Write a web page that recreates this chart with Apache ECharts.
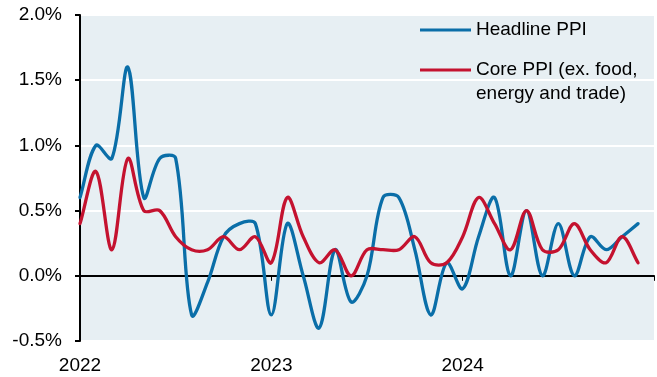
<!DOCTYPE html>
<html><head><meta charset="utf-8">
<script src="https://cdn.jsdelivr.net/npm/echarts@6/dist/echarts.min.js"></script>
<style>html,body{margin:0;padding:0;background:#fff}#c{width:657px;height:377px}</style>
</head><body><div id="c"></div>
<script>
const months = ['2022-01','2022-02','2022-03','2022-04','2022-05','2022-06','2022-07','2022-08','2022-09','2022-10','2022-11','2022-12',
  '2023-01','2023-02','2023-03','2023-04','2023-05','2023-06','2023-07','2023-08','2023-09','2023-10','2023-11','2023-12',
  '2024-01','2024-02','2024-03','2024-04','2024-05','2024-06','2024-07','2024-08','2024-09','2024-10','2024-11','2024-12'];
const headlinePPI = [0.6, 1.0, 0.9, 1.6, 0.6, 0.9, 0.9, -0.3, -0.05, 0.3, 0.4, 0.4,
  -0.3, 0.4, 0.0, -0.4, 0.2, -0.2, 0.0, 0.6, 0.6, 0.2, -0.3, 0.1,
  -0.1, 0.3, 0.6, 0.0, 0.5, 0.0, 0.4, 0.0, 0.3, 0.2, 0.3, 0.4];
const corePPI = [0.4, 0.8, 0.2, 0.9, 0.5, 0.5, 0.3, 0.2, 0.2, 0.3, 0.2, 0.3,
  0.1, 0.6, 0.3, 0.1, 0.2, 0.0, 0.2, 0.2, 0.2, 0.3, 0.1, 0.1,
  0.3, 0.6, 0.4, 0.2, 0.5, 0.2, 0.2, 0.4, 0.2, 0.1, 0.3, 0.1];
const yearLabels = ['2022', '2023', '2024'];
const seriesNames = ['Headline PPI', 'Core PPI (ex. food,\nenergy and trade)'];

const FONT = "'Liberation Sans', Arial, sans-serif";
const BLUE = '#0a6ea8', RED = '#c4122f';
const chart = echarts.init(document.getElementById('c'), null, {renderer: 'canvas'});

// smooth curve (chord-weighted cubic Bezier) through the points placed by the axis scales
function curvePath(pts, s) {
  const dist = (a, b) => Math.hypot(b[0] - a[0], b[1] - a[1]);
  let d = 'M' + pts[0][0] + ',' + pts[0][1];
  for (let i = 0; i < pts.length - 1; i++) {
    const p0 = pts[i - 1] || pts[i], p1 = pts[i], p2 = pts[i + 1], p3 = pts[i + 2] || pts[i + 1];
    const d01 = dist(p0, p1), d12 = dist(p1, p2), d23 = dist(p2, p3);
    const f1 = (d01 + d12) > 0 ? s * d12 / (d01 + d12) : 0;
    const f2 = (d12 + d23) > 0 ? s * d12 / (d12 + d23) : 0;
    const c1x = p1[0] + (p2[0] - p0[0]) * f1, c1y = p1[1] + (p2[1] - p0[1]) * f1;
    const c2x = p2[0] - (p3[0] - p1[0]) * f2, c2y = p2[1] - (p3[1] - p1[1]) * f2;
    d += 'C' + c1x + ',' + c1y + ',' + c2x + ',' + c2y + ',' + p2[0] + ',' + p2[1];
  }
  return d;
}
function curveSeries(name, values, color) {
  return {
    name: name, type: 'custom', xAxisIndex: 0, yAxisIndex: 0,
    data: values.map((v, i) => [i, v]),
    encode: {x: 0, y: 1},
    itemStyle: {color: color},
    renderItem: function (params, api) {
      if (params.dataIndex !== 0) return null;
      const pts = values.map((v, i) => api.coord([i, v]));
      return {type: 'path', shape: {pathData: curvePath(pts, 0.34)},
        style: {fill: 'none', stroke: color, lineWidth: 3.3, lineJoin: 'round', lineCap: 'round'}};
    }
  };
}

chart.setOption({
  animation: false,
  textStyle: {fontFamily: FONT},
  grid: {left: 80, top: 15, right: -2, bottom: 36, show: true, backgroundColor: '#e7eff3', borderWidth: 0, containLabel: false},
  legend: [
    {data: [seriesNames[0]], left: 420, top: 18, padding: 0, itemWidth: 51, itemHeight: 3, icon: 'rect', selectedMode: false,
     textStyle: {fontSize: 19, lineHeight: 24, color: '#000', fontFamily: FONT}},
    {data: [seriesNames[1]], left: 420, top: 34, padding: 0, itemWidth: 51, itemHeight: 3, icon: 'rect', selectedMode: false,
     formatter: n => '\n' + n,
     textStyle: {fontSize: 19, lineHeight: 24, color: '#000', fontFamily: FONT}}
  ],
  xAxis: [
    {type: 'value', min: 0, max: 36, interval: 12, position: 'bottom',
     axisLine: {show: false, onZero: false}, axisTick: {show: false}, splitLine: {show: false},
     axisLabel: {margin: 15, fontSize: 19, color: '#000', fontFamily: FONT,
       formatter: v => yearLabels[v / 12] || ''}},
    {type: 'value', min: 0, max: 36, interval: 12, position: 'top',
     axisLine: {show: true, onZero: true, lineStyle: {color: '#000', width: 2}},
     axisTick: {show: true, inside: true, length: 5, lineStyle: {color: '#000', width: 1}},
     axisLabel: {show: false}, splitLine: {show: false}}
  ],
  yAxis: {type: 'value', min: -0.5, max: 2.0, interval: 0.5,
    axisLine: {show: true, lineStyle: {color: '#000', width: 2}},
    axisTick: {show: true, length: 5, lineStyle: {color: '#000', width: 2}},
    splitLine: {show: true, lineStyle: {color: '#ffffff', width: 2}},
    axisLabel: {margin: 18, fontSize: 19, color: '#000', fontFamily: FONT,
      formatter: v => v.toFixed(1) + '%'}},
  series: [
    curveSeries(seriesNames[0], headlinePPI, BLUE),
    curveSeries(seriesNames[1], corePPI, RED)
  ]
});
</script></body></html>
